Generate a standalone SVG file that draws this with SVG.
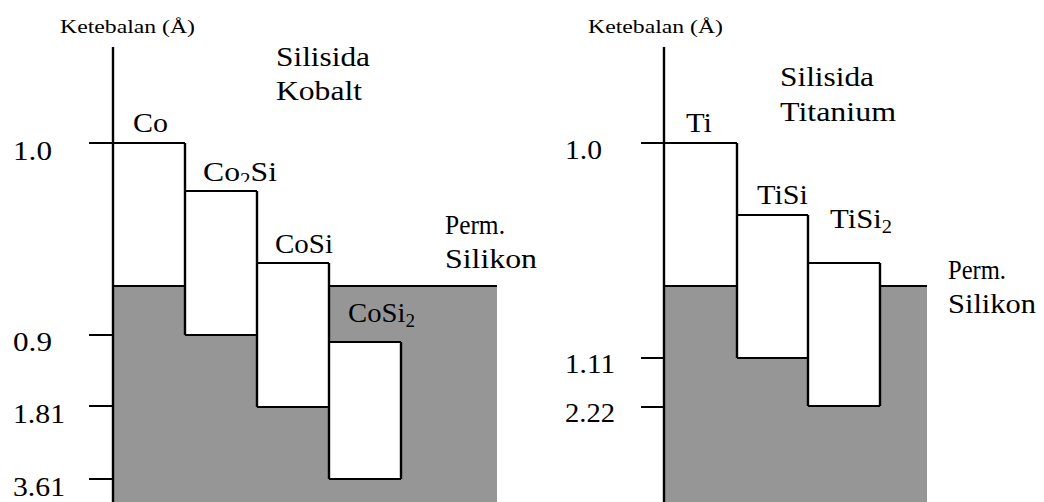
<svg xmlns="http://www.w3.org/2000/svg" width="1044" height="502" viewBox="0 0 1044 502" font-family="'Liberation Serif', 'Times New Roman', serif">
  <style>
    .bg { fill: #ffffff; }
    .si { fill: #969696; stroke: none; }
    .box { fill: #ffffff; stroke: none; }
    .v { stroke: #000; stroke-width: 2.4; fill: none; }
    .h { stroke: #000; stroke-width: 1.8; fill: none; }
    text { font-family: "Liberation Serif", "Times New Roman", serif; fill: #000; }
    .ax { font-size: 19px; }
    .lb { font-size: 27px; }
    .sub { font-size: 18px; }
  </style>
  <defs>
    <clipPath id="co2si-clip">
      <rect x="195" y="150" width="100" height="32"/>
    </clipPath>
  </defs>

  <rect class="bg" x="0" y="0" width="1044" height="502"/>

  <!-- Cobalt silicide panel -->
  <g id="cobalt-panel">
    <g id="cobalt-substrate">
      <rect class="si" x="113" y="286" width="384" height="216"/>
      <path class="h" d="M329,286 H497"/>
    </g>
    <g id="node-co">
      <rect class="box" x="113" y="143" width="72" height="143"/>
      <path class="h" d="M113,143 H185 M113,286 H185"/>
      <text class="lb" x="133" y="132" textLength="35" lengthAdjust="spacingAndGlyphs">Co</text>
    </g>
    <g id="node-co2si">
      <rect class="box" x="185" y="191" width="72" height="144"/>
      <path class="h" d="M185,191 H257 M185,335 H257"/>
      <text class="lb" x="203" y="181" textLength="74" lengthAdjust="spacingAndGlyphs" clip-path="url(#co2si-clip)">Co<tspan class="sub" dy="5">2</tspan><tspan dy="-5">Si</tspan></text>
    </g>
    <g id="node-cosi">
      <rect class="box" x="257" y="263" width="72" height="144"/>
      <path class="h" d="M257,263 H329 M257,407 H329"/>
      <text class="lb" x="275" y="253" textLength="58" lengthAdjust="spacingAndGlyphs">CoSi</text>
    </g>
    <g id="node-cosi2">
      <rect class="box" x="329" y="342" width="72" height="137"/>
      <path class="h" d="M329,342 H401 M329,479 H401"/>
      <text class="lb" x="348" y="322" textLength="67" lengthAdjust="spacingAndGlyphs">CoSi<tspan class="sub" dy="5">2</tspan></text>
    </g>
    <!-- box sides -->
    <path class="v" d="M185,143 V335 M257,191 V407 M329,263 V479 M401,342 V479"/>
    <g id="cobalt-axis">
      <path class="v" d="M113,47 V502"/>
      <path class="h" d="M89,143 H113 M89,335 H113 M89,406 H113 M89,479 H113"/>
      <text class="ax" x="60" y="33" textLength="135" lengthAdjust="spacingAndGlyphs">Ketebalan (Å)</text>
      <text class="lb" x="13" y="160" textLength="39" lengthAdjust="spacingAndGlyphs">1.0</text>
      <text class="lb" x="13" y="351" textLength="39" lengthAdjust="spacingAndGlyphs">0.9</text>
      <text class="lb" x="13" y="423" textLength="52" lengthAdjust="spacingAndGlyphs">1.81</text>
      <text class="lb" x="13" y="496" textLength="52" lengthAdjust="spacingAndGlyphs">3.61</text>
    </g>
    <g id="cobalt-title">
      <text class="lb" x="276" y="66" textLength="94" lengthAdjust="spacingAndGlyphs">Silisida</text>
      <text class="lb" x="276" y="100" textLength="86" lengthAdjust="spacingAndGlyphs">Kobalt</text>
    </g>
    <g id="cobalt-substrate-label">
      <text class="lb" x="445" y="234" textLength="60" lengthAdjust="spacingAndGlyphs">Perm.</text>
      <text class="lb" x="445" y="268" textLength="92" lengthAdjust="spacingAndGlyphs">Silikon</text>
    </g>
  </g>

  <!-- Titanium silicide panel -->
  <g id="titanium-panel">
    <g id="titanium-substrate">
      <rect class="si" x="664" y="286" width="263" height="216"/>
      <path class="h" d="M880,286 H927"/>
    </g>
    <g id="node-ti">
      <rect class="box" x="664" y="143" width="73" height="143"/>
      <path class="h" d="M664,143 H737 M664,286 H737"/>
      <text class="lb" x="686" y="132" textLength="26" lengthAdjust="spacingAndGlyphs">Ti</text>
    </g>
    <g id="node-tisi">
      <rect class="box" x="737" y="215" width="71" height="143"/>
      <path class="h" d="M737,215 H808 M737,358 H808"/>
      <text class="lb" x="757" y="204" textLength="51" lengthAdjust="spacingAndGlyphs">TiSi</text>
    </g>
    <g id="node-tisi2">
      <rect class="box" x="808" y="263" width="72" height="143"/>
      <path class="h" d="M808,263 H880 M808,406 H880"/>
      <text class="lb" x="830" y="228" textLength="62" lengthAdjust="spacingAndGlyphs">TiSi<tspan class="sub" dy="5">2</tspan></text>
    </g>
    <path class="v" d="M737,143 V358 M808,215 V406 M880,263 V406"/>
    <g id="titanium-axis">
      <path class="v" d="M664,47 V502"/>
      <path class="h" d="M641,143 H664 M641,358 H664 M641,407 H664"/>
      <text class="ax" x="588" y="33" textLength="135" lengthAdjust="spacingAndGlyphs">Ketebalan (Å)</text>
      <text class="lb" x="565" y="159" textLength="37" lengthAdjust="spacingAndGlyphs">1.0</text>
      <text class="lb" x="565" y="373" textLength="50" lengthAdjust="spacingAndGlyphs">1.11</text>
      <text class="lb" x="565" y="422" textLength="50" lengthAdjust="spacingAndGlyphs">2.22</text>
    </g>
    <g id="titanium-title">
      <text class="lb" x="780" y="86" textLength="94" lengthAdjust="spacingAndGlyphs">Silisida</text>
      <text class="lb" x="780" y="121" textLength="116" lengthAdjust="spacingAndGlyphs">Titanium</text>
    </g>
    <g id="titanium-substrate-label">
      <text class="lb" x="948" y="279" textLength="58" lengthAdjust="spacingAndGlyphs">Perm.</text>
      <text class="lb" x="948" y="313" textLength="88" lengthAdjust="spacingAndGlyphs">Silikon</text>
    </g>
  </g>
</svg>
